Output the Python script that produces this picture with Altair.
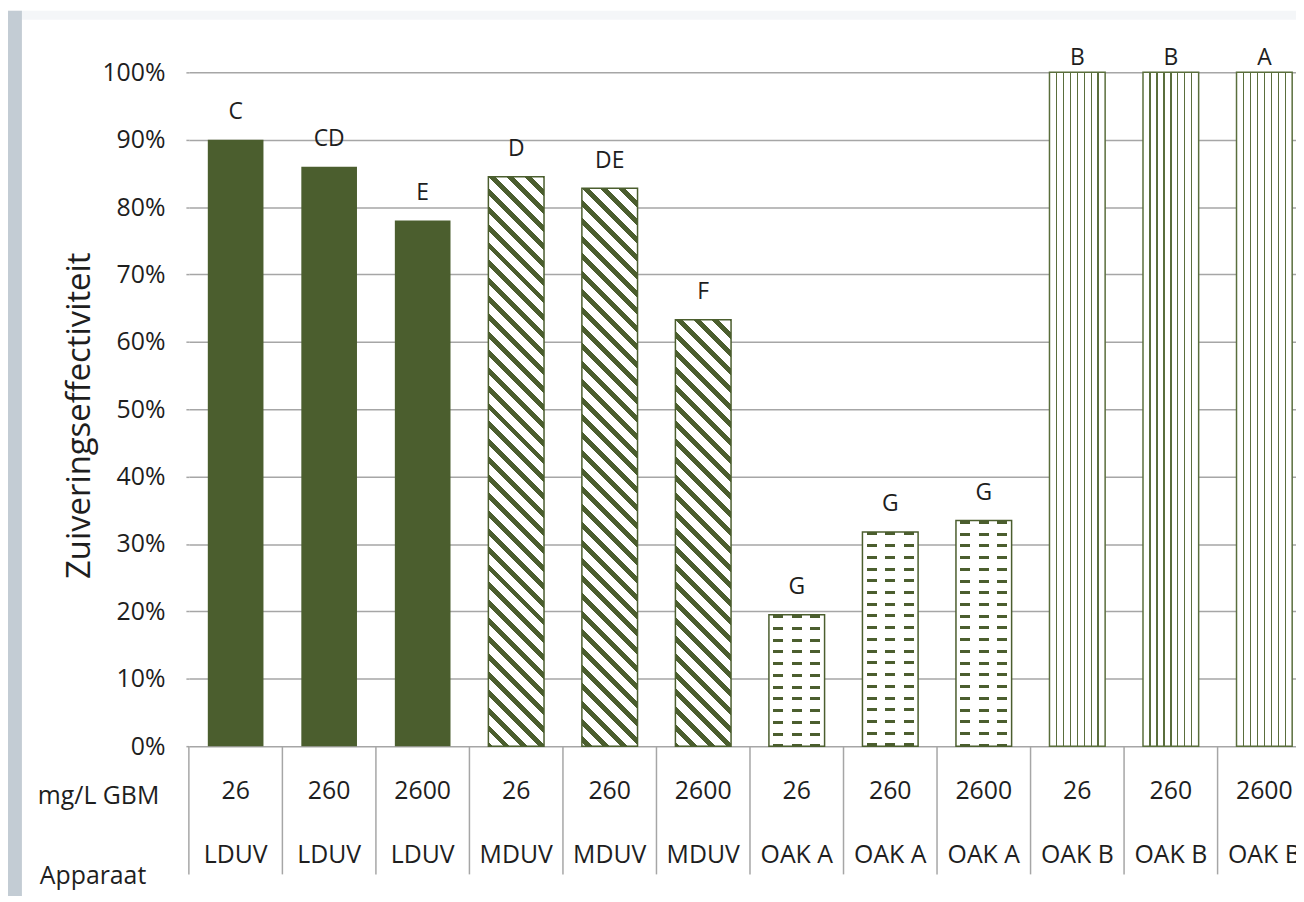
import math
import altair as alt
import pandas as pd

# ---------------- data ----------------
doses = ["26", "260", "2600", "26", "260", "2600", "26", "260", "2600", "26", "260", "2600"]
devices = ["LDUV", "LDUV", "LDUV", "MDUV", "MDUV", "MDUV",
           "OAK A", "OAK A", "OAK A", "OAK B", "OAK B", "OAK B"]
values = [0.90, 0.86, 0.78, 0.845, 0.828, 0.633, 0.195, 0.318, 0.335, 1.00, 1.00, 1.00]
letters = ["C", "CD", "E", "D", "DE", "F", "G", "G", "G", "B", "B", "A"]
patterns = ["solid"] * 3 + ["diagonal"] * 3 + ["dashes"] * 3 + ["vertical"] * 3
row_labels = ["mg/L GBM", "Apparaat"]
y_ticks = [0, 0.1, 0.2, 0.3, 0.4, 0.5, 0.6, 0.7, 0.8, 0.9, 1.0]

# ---------------- layout / style ----------------
PLOT_W = 1114
PLOT_H = 678
STEP = 94.1
BAR_W = 56
GREEN = "#4b5e2e"
LINE_GREEN = "#5a6e3c"
GRID = "#a6a6a6"
TXT = "#1e1e1e"
FONT = "Open Sans"
WHITE = "#ffffff"
CLEAR = "rgba(255,255,255,0)"

df = pd.DataFrame({
    "idx": list(range(len(values))),
    "dose": doses,
    "device": devices,
    "value": values,
    "letter": letters,
    "pattern": patterns,
})
lab_df = pd.DataFrame({"label": row_labels, "row": [1, 2]})

xscale = alt.Scale(domain=list(range(len(values))), range=[0, STEP * len(values)],
                   paddingInner=0, paddingOuter=0)
yscale = alt.Scale(domain=[0, 1], nice=False)

yaxis = alt.Axis(
    values=y_ticks, format=".0%", grid=True, gridColor=GRID, gridWidth=1.5,
    domain=False, tickColor=GRID, tickSize=3, tickWidth=1.5,
    labelFont=FONT, labelFontSize=25, labelColor=TXT, labelPadding=21,
    title="Zuiveringseffectiviteit", titleFont=FONT, titleFontSize=33,
    titleFontWeight="normal", titleColor=TXT, titleAngle=270,
    titleX=-110, titleY=345, titleAlign="center", titleBaseline="middle",
)

X = alt.X("idx:O", scale=xscale, axis=None)
Y = alt.Y("value:Q", scale=yscale, axis=yaxis)


def stops_from(segments, bg, fg):
    """segments: list of (a,b) offsets in [0,1] that get colour fg."""
    st = [{"offset": 0, "color": bg}]
    for a, b in segments:
        a = max(0.0, min(1.0, a))
        b = max(0.0, min(1.0, b))
        if b <= a:
            continue
        st += [{"offset": a, "color": bg}, {"offset": a, "color": fg},
               {"offset": b, "color": fg}, {"offset": b, "color": bg}]
    st.append({"offset": 1, "color": bg})
    return st


def vertical_lines_gradient(w, n=8, lw=1.4):
    hw = lw / 2 / w
    segs = [(k / n - hw, k / n + hw) for k in range(1, n)]
    return {"gradient": "linear", "x1": 0, "y1": 0, "x2": 1, "y2": 0,
            "stops": stops_from(segs, WHITE, LINE_GREEN)}


def diagonal_gradient(w, h, period=18.0, dark=7.0):
    lam = (w + h) / (w * w + h * h)
    x2 = lam * w
    y2 = 1 - lam * h
    total = w + h
    segs = []
    k0 = math.floor(-h / period) - 1
    k1 = math.ceil(w / period) + 1
    for k in range(k0, k1 + 1):
        a = k * period
        b = a + dark
        segs.append(((a + h) / total, (b + h) / total))
    return {"gradient": "linear", "x1": 0, "y1": 1, "x2": x2, "y2": y2,
            "stops": stops_from(segs, WHITE, GREEN)}


def rows_gradient(h, period=11.8, thick=3.0):
    segs = []
    y = 0.5
    while y < h:
        segs.append((y / h, (y + thick) / h))
        y += period
    return {"gradient": "linear", "x1": 0, "y1": 0, "x2": 0, "y2": 1,
            "stops": stops_from(segs, WHITE, GREEN)}


def dash_mask_gradient(w, dash=10.0):
    centers = [w / 6, w / 2, 5 * w / 6]
    segs = [((c - dash / 2) / w, (c + dash / 2) / w) for c in centers]
    return {"gradient": "linear", "x1": 0, "y1": 0, "x2": 1, "y2": 0,
            "stops": stops_from(segs, WHITE, CLEAR)}


base = alt.Chart(df)
layers = []

# background strips (screenshot frame)
frame = alt.Chart(pd.DataFrame({"k": [0]}))
layers.append(frame.mark_rect(color="#f4f6f8").encode(
    x=alt.value(-182), x2=alt.value(PLOT_W), y=alt.value(-62), y2=alt.value(-53)))
layers.append(frame.mark_rect(color="#c3ccd4").encode(
    x=alt.value(-182), x2=alt.value(-168), y=alt.value(-62), y2=alt.value(PLOT_H + 160)))

# solid bars
layers.append(base.transform_filter("datum.pattern == 'solid'").mark_bar(
    width=BAR_W, color=GREEN).encode(x=X, y=Y))

# vertical-line bars
layers.append(base.transform_filter("datum.pattern == 'vertical'").mark_bar(
    width=BAR_W, fill=vertical_lines_gradient(BAR_W), stroke=LINE_GREEN,
    strokeWidth=1.5).encode(x=X, y=Y))

for i, (v, p) in enumerate(zip(values, patterns)):
    h = v * PLOT_H
    sel = base.transform_filter(alt.datum.idx == i)
    if p == "diagonal":
        layers.append(sel.mark_bar(width=BAR_W, fill=diagonal_gradient(BAR_W, h),
                                   stroke=GREEN, strokeWidth=1.5).encode(x=X, y=Y))
    elif p == "dashes":
        layers.append(sel.mark_bar(width=BAR_W, fill=rows_gradient(h)).encode(x=X, y=Y))
        layers.append(sel.mark_bar(width=BAR_W, fill=dash_mask_gradient(BAR_W),
                                   stroke=GREEN, strokeWidth=1.5).encode(x=X, y=Y))

# significance letters
layers.append(base.transform_calculate(
    ly="datum.value >= 0.999 ? datum.value + 0.021 : datum.value + 0.041"
).mark_text(font=FONT, fontSize=23, color=TXT, baseline="middle").encode(
    x=X, y=alt.Y("ly:Q", scale=yscale, axis=yaxis), text="letter:N"))

# table under the chart: separators
layers.append(base.mark_rule(color=GRID, strokeWidth=1.5).encode(
    x=alt.X("idx:O", scale=xscale, axis=None, bandPosition=0),
    y=alt.value(PLOT_H), y2=alt.value(PLOT_H + 129)))
# table rows
layers.append(base.mark_text(font=FONT, fontSize=25, color=TXT, baseline="alphabetic").encode(
    x=X, y=alt.value(731), text="dose:N"))
layers.append(base.mark_text(font=FONT, fontSize=25, color=TXT, baseline="alphabetic").encode(
    x=X, y=alt.value(796), text="device:N"))
lab = alt.Chart(lab_df)
layers.append(lab.transform_filter("datum.row == 1").mark_text(
    font=FONT, fontSize=25, color=TXT, baseline="alphabetic", align="left").encode(
    x=alt.value(-152), y=alt.value(736), text="label:N"))
layers.append(lab.transform_filter("datum.row == 2").mark_text(
    font=FONT, fontSize=25, color=TXT, baseline="alphabetic", align="left").encode(
    x=alt.value(-150), y=alt.value(817), text="label:N"))

chart = alt.layer(*layers).properties(
    width=PLOT_W, height=PLOT_H,
    autosize=alt.AutoSizeParams(type="none"),
    padding={"left": 182, "top": 62, "right": 0, "bottom": 148},
    background="white",
).configure_view(stroke=None)

chart.save("out.html", embed_options={"renderer": "svg", "actions": False})
